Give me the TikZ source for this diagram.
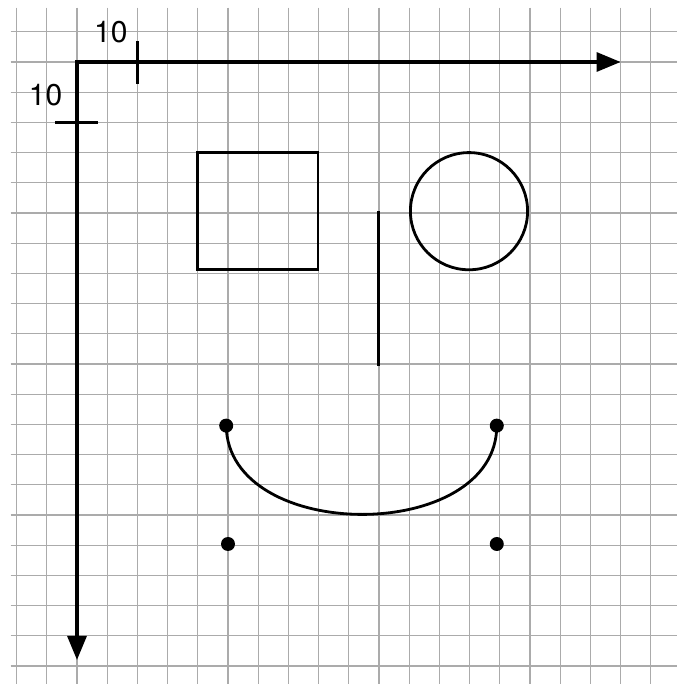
\documentclass[tikz,border=0pt]{standalone}
\usepackage{fontspec}
\setmainfont{TeX Gyre Heros}
\usetikzlibrary{arrows.meta}
\definecolor{gridc}{HTML}{ABABAB}

\begin{document}
\begin{tikzpicture}[
  x=6.04pt, y=-6.04pt,
  >={Triangle[length=24pt,width=19pt]},
  gridline/.style={draw=gridc, line width=1.1pt},
  axis/.style={<->, line width=3.2pt},
  tick/.style={line width=2.8pt},
  shp/.style={line width=2.8pt},
  dot/.style={circle, fill=black, inner sep=0pt, minimum size=14pt},
  lbl/.style={font=\fontsize{30}{32}\selectfont, inner sep=0pt},
]
\useasboundingbox (-12.748,-10.265) rectangle (99.172,102.98);

% Grid
\foreach \gx in {-10,-5,...,95}{
  \draw[gridline] (\gx,-9) -- (\gx,103);
}
\foreach \gy in {-5,0,...,100}{
  \draw[gridline] (-11,\gy) -- (100,\gy);
}

% Axes
\coordinate (o) at (0,0);
\coordinate (xend) at (90,0);
\coordinate (yend) at (0,99);
\draw[axis] (xend) -- (o) -- (yend);

% Ticks and labels
\draw[tick] (10,-3.4) -- (10,3.6);
\draw[tick] (-3.6,10) -- (3.4,10);
\node[lbl] (xlab) at (5.6,-5) {10};
\node[lbl] (ylab) at (-5.2,5.5) {10};

% Shapes
\draw[shp] (19.9,15) rectangle (39.9,34.4);
\draw[shp] (64.9,24.7) circle[radius=9.7];
\draw[shp] (49.95,24.7) -- (49.95,50.3);

% Curve and its points
\node[dot] (p0) at (24.7,60.2) {};
\node[dot] (p1) at (69.5,60.2) {};
\node[dot] (c0) at (25,79.8) {};
\node[dot] (c1) at (69.5,79.8) {};
\draw[shp] (p0.center) .. controls (c0.center) and (c1.center) .. (p1.center);

\end{tikzpicture}
\end{document}
